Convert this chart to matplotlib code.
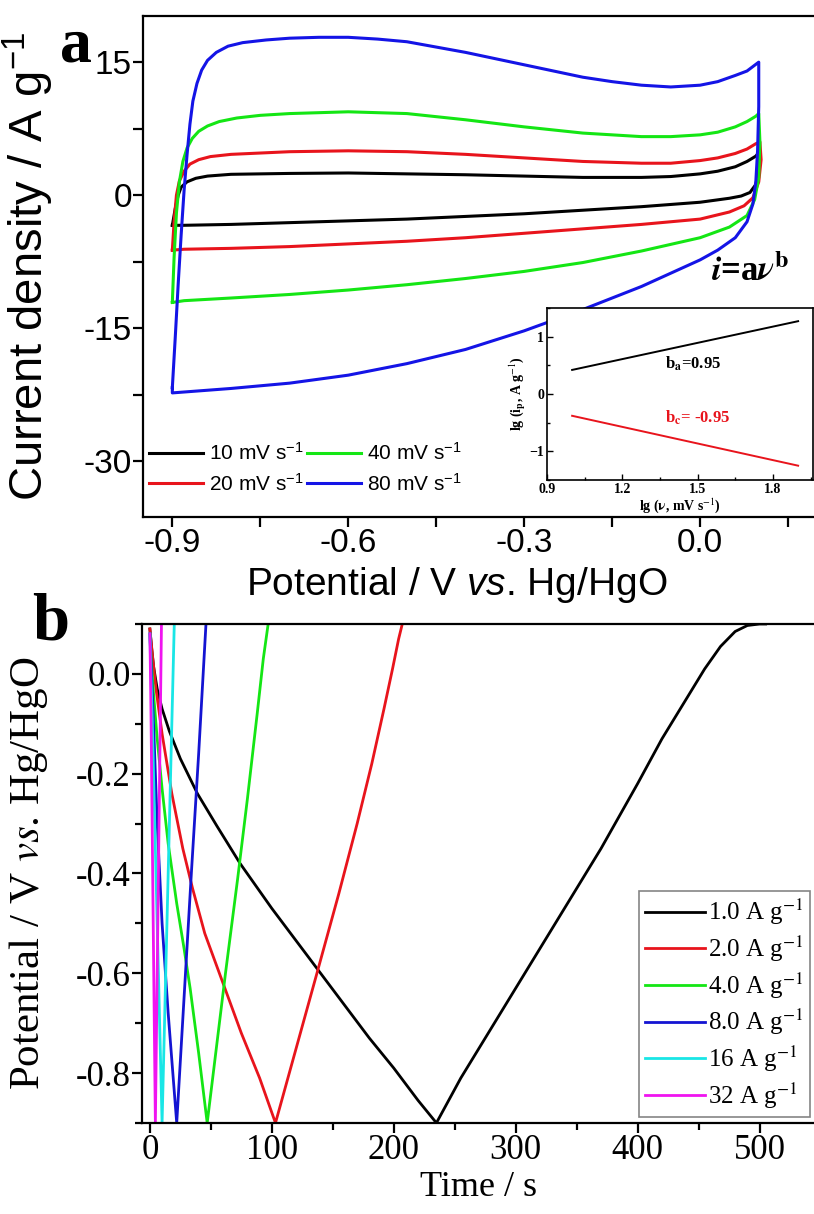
import numpy as np
import matplotlib
matplotlib.use('Agg')
import matplotlib.pyplot as plt
from matplotlib.ticker import MultipleLocator
from matplotlib.font_manager import FontProperties

# ---- panel a: CV loops (potential V, current A/g), anodic branch then cathodic branch
cv_labels = ['10 mV s$^{-1}$', '20 mV s$^{-1}$', '40 mV s$^{-1}$', '80 mV s$^{-1}$']
cv_colors = ['#000000', '#e8141c', '#14e614', '#1414e6']

cv_10_v = [-0.9, -0.895, -0.89, -0.885, -0.875, -0.86, -0.84, -0.8, -0.7, -0.6, -0.5, -0.4, -0.3, -0.2, -0.1,
           -0.05, 0.0, 0.03, 0.06, 0.08, 0.095, 0.1, 0.1, 0.095, 0.085, 0.07, 0.05, 0.0, -0.1, -0.2, -0.3, -0.4,
           -0.5, -0.6, -0.7, -0.8, -0.88, -0.9]
cv_10_i = [-3.4, -1.5, 0.0, 0.9, 1.5, 1.9, 2.15, 2.35, 2.45, 2.5, 2.4, 2.3, 2.15, 2.0, 2.0,
           2.1, 2.4, 2.7, 3.2, 3.8, 4.4, 4.8, 3.0, 1.2, 0.3, -0.1, -0.35, -0.8, -1.3, -1.7, -2.1, -2.4,
           -2.7, -2.9, -3.1, -3.3, -3.4, -3.4]

cv_20_v = [-0.9, -0.897, -0.893, -0.888, -0.88, -0.87, -0.855, -0.835, -0.8, -0.7, -0.6, -0.5, -0.4, -0.3, -0.2,
           -0.1, -0.05, 0.0, 0.03, 0.06, 0.08, 0.095, 0.102, 0.104, 0.1, 0.09, 0.075, 0.05, 0.0, -0.1, -0.2, -0.3,
           -0.4, -0.5, -0.6, -0.7, -0.8, -0.88, -0.9]
cv_20_i = [-6.2, -3.0, 0.0, 1.6, 2.7, 3.5, 4.0, 4.35, 4.6, 4.9, 5.0, 4.9, 4.6, 4.2, 3.8,
           3.6, 3.6, 3.9, 4.2, 4.7, 5.2, 5.8, 6.0, 4.0, 1.5, -0.3, -1.2, -1.9, -2.7, -3.3, -3.8, -4.3,
           -4.8, -5.2, -5.5, -5.8, -6.0, -6.1, -6.2]

cv_40_v = [-0.9, -0.897, -0.893, -0.888, -0.882, -0.875, -0.866, -0.855, -0.84, -0.82, -0.79, -0.75, -0.7, -0.6,
           -0.5, -0.4, -0.3, -0.2, -0.1, -0.05, 0.0, 0.03, 0.06, 0.08, 0.095, 0.1, 0.102, 0.1, 0.093, 0.08, 0.05,
           0.0, -0.1, -0.2, -0.3, -0.4, -0.5, -0.6, -0.7, -0.8, -0.88, -0.9]
cv_40_i = [-12.1, -7.0, -2.0, 1.5, 3.8, 5.3, 6.4, 7.2, 7.8, 8.3, 8.7, 9.0, 9.2, 9.4,
           9.2, 8.5, 7.7, 7.0, 6.6, 6.6, 6.8, 7.1, 7.7, 8.3, 8.9, 9.2, 6.0, 2.0, -0.5, -2.3, -3.6,
           -4.8, -6.3, -7.6, -8.6, -9.4, -10.1, -10.7, -11.2, -11.6, -11.9, -12.1]

cv_80_v = [-0.9, -0.895, -0.89, -0.885, -0.88, -0.875, -0.87, -0.865, -0.858, -0.85, -0.84, -0.825, -0.805,
           -0.78, -0.74, -0.7, -0.65, -0.6, -0.55, -0.5, -0.45, -0.4, -0.35, -0.3, -0.25, -0.2, -0.15, -0.1,
           -0.05, 0.0, 0.03, 0.06, 0.08, 0.1, 0.1, 0.098, 0.095, 0.09, 0.08, 0.06, 0.03, 0.0, -0.05, -0.1, -0.2,
           -0.3, -0.4, -0.5, -0.6, -0.7, -0.8, -0.9, -0.9]
cv_80_i = [-21.7, -16.0, -10.0, -4.5, 0.5, 4.5, 8.0, 10.6, 12.6, 14.1, 15.2, 16.1, 16.8,
           17.2, 17.5, 17.7, 17.8, 17.8, 17.6, 17.3, 16.7, 16.1, 15.4, 14.7, 14.0, 13.3, 12.8, 12.4,
           12.2, 12.4, 12.8, 13.5, 14.0, 15.0, 10.0, 5.0, 1.5, -1.0, -3.0, -4.8, -6.2, -7.3, -8.8, -10.3, -12.9,
           -15.3, -17.4, -19.0, -20.3, -21.2, -21.8, -22.3, -21.7]

cv_v = [cv_10_v, cv_20_v, cv_40_v, cv_80_v]
cv_i = [cv_10_i, cv_20_i, cv_40_i, cv_80_i]

# inset: lg(v) vs lg(ip)
lg_v = [1.0, 1.9]
lg_ip_a = [0.42, 1.27]
lg_ip_c = [-0.38, -1.25]

# ---- panel b: GCD curves (time s, potential V)
gcd_labels = ['1.0 A g$^{-1}$', '2.0 A g$^{-1}$', '4.0 A g$^{-1}$', '8.0 A g$^{-1}$', '16 A g$^{-1}$', '32 A g$^{-1}$']
gcd_colors = ['#000000', '#e8141c', '#14e614', '#1414d2', '#19e6e6', '#f014f0']

gcd_1_t = [0, 1.5, 3, 6, 10, 16, 25, 39, 55, 74, 100, 120, 140, 160, 180, 200, 220, 235,
           255, 280, 310, 340, 370, 400, 420, 440, 455, 468, 480, 490, 500, 505]
gcd_1_v = [0.09, 0.05, 0.015, -0.03, -0.07, -0.115, -0.17, -0.24, -0.305, -0.38, -0.47, -0.535, -0.6, -0.665,
           -0.73, -0.79, -0.855, -0.9,
           -0.81, -0.71, -0.59, -0.47, -0.35, -0.22, -0.13, -0.05, 0.01, 0.055, 0.085, 0.097, 0.1, 0.1]
gcd_2_t = [0, 2, 5, 10, 18, 27, 35, 45, 60, 75, 90, 103, 120, 137, 155, 170, 182, 192, 199, 204, 207]
gcd_2_v = [0.09, 0.04, -0.03, -0.12, -0.24, -0.35, -0.43, -0.52, -0.62, -0.72, -0.81, -0.9,
           -0.75, -0.6, -0.44, -0.3, -0.18, -0.07, 0.01, 0.07, 0.1]
gcd_4_t = [0, 1, 3, 6, 10, 15, 22, 28, 33, 40, 47, 55, 62, 72, 80, 88, 93, 97]
gcd_4_v = [0.08, 0.03, -0.04, -0.13, -0.23, -0.34, -0.46, -0.55, -0.63, -0.76, -0.9,
           -0.74, -0.6, -0.41, -0.25, -0.08, 0.03, 0.1]
gcd_8_t = [0, 1, 3, 6, 10, 15, 22, 28, 34, 40, 46]
gcd_8_v = [0.08, 0.02, -0.1, -0.3, -0.5, -0.68, -0.9, -0.65, -0.4, -0.16, 0.1]
gcd_16_t = [0, 0.5, 2, 5, 10, 15, 20]
gcd_16_v = [0.08, 0.03, -0.1, -0.4, -0.9, -0.4, 0.1]
gcd_32_t = [0, 0.3, 1, 2.5, 4.5, 7, 9.5]
gcd_32_v = [0.08, 0.03, -0.1, -0.45, -0.9, -0.4, 0.1]

gcd_t = [gcd_1_t, gcd_2_t, gcd_4_t, gcd_8_t, gcd_16_t, gcd_32_t]
gcd_v = [gcd_1_v, gcd_2_v, gcd_4_v, gcd_8_v, gcd_16_v, gcd_32_v]

sans = ['Liberation Sans', 'DejaVu Sans']
serif = ['Liberation Serif', 'DejaVu Serif']
plt.rcParams['mathtext.fontset'] = 'custom'
plt.rcParams['mathtext.rm'] = 'Liberation Sans'
plt.rcParams['mathtext.it'] = 'Liberation Sans:italic'
plt.rcParams['mathtext.bf'] = 'Liberation Sans:bold'

fig = plt.figure(figsize=(8.14, 12.14), dpi=100)

# ================= panel a =================
ax1 = fig.add_axes([0.1757, 0.5741, 0.8263, 0.4127])
for v, i, c, lab in zip(cv_v, cv_i, cv_colors, cv_labels):
    ax1.plot(v, i, color=c, lw=2.2, label=lab)
ax1.set_xlim(-0.95, 0.197)
ax1.set_ylim(-36.3, 20.2)
ax1.xaxis.set_minor_locator(MultipleLocator(0.15))
ax1.yaxis.set_minor_locator(MultipleLocator(7.5))
ax1.set_xticks([-0.9, -0.6, -0.3, 0.0])
ax1.set_xticklabels(['-0.9', '-0.6', '-0.3', '0.0'])
ax1.set_yticks([15, 0, -15, -30])
ax1.set_yticklabels(['15', '0', '-15', '-30'])
ax1.tick_params(which='both', direction='out', top=False, right=False, width=1.6, length=7)
ax1.tick_params(which='major', labelsize=24, pad=1)
for lbl in ax1.get_xticklabels() + ax1.get_yticklabels():
    lbl.set_family(sans)
for s in ['left', 'bottom', 'top']:
    ax1.spines[s].set_linewidth(1.6)
ax1.spines['right'].set_visible(False)
ax1.set_xlabel('Potential / V $\\mathit{vs}$. Hg/HgO', fontsize=28, family=sans)
ax1.xaxis.set_label_coords(0.467, -0.096)
ax1.set_ylabel('Current density / A g$^{-1}$', fontsize=34, family=sans)
ax1.yaxis.set_label_coords(-0.13, 0.5)
leg = ax1.legend(ncol=2, loc='lower left', bbox_to_anchor=(-0.01, 0.02), frameon=False,
                 prop={'family': sans, 'size': 15}, handlelength=2.6, handletextpad=0.3,
                 columnspacing=0.15, labelspacing=0.4, borderaxespad=0.2)
ax1.text(0.961, 0.489, '$\\boldsymbol{i}$=a$\\boldsymbol{\\nu}^{\\mathbf{b}}$', transform=ax1.transAxes,
         ha='right', va='center', fontsize=25, family=serif, fontweight='bold', math_fontfamily='stix')

# inset
ax_in = fig.add_axes([0.672, 0.6046, 0.327, 0.1417])
ax_in.plot(lg_v, lg_ip_a, color='#000000', lw=1.4)
ax_in.plot(lg_v, lg_ip_c, color='#e8141c', lw=1.4)
ax_in.set_xlim(0.9, 1.96)
ax_in.set_ylim(-1.5, 1.5)
ax_in.xaxis.set_major_locator(MultipleLocator(0.3))
ax_in.xaxis.set_minor_locator(MultipleLocator(0.15))
ax_in.yaxis.set_major_locator(MultipleLocator(1))
ax_in.yaxis.set_minor_locator(MultipleLocator(0.5))
ax_in.tick_params(which='both', direction='in', width=1.0, labelsize=10, pad=2)
ax_in.tick_params(which='major', length=4)
ax_in.tick_params(which='minor', length=2.5)
for lbl in ax_in.get_xticklabels() + ax_in.get_yticklabels():
    lbl.set_family(serif)
    lbl.set_fontweight('bold')
for s in ax_in.spines.values():
    s.set_linewidth(1.2)
ax_in.set_xlabel('lg ($\\mathbf{\\nu}$, mV s$^{-1}$)', fontsize=10, family=serif, fontweight='bold',
                 labelpad=0, math_fontfamily='stix')
ax_in.set_ylabel('lg ($\\mathbf{i_p}$, A g$^{-1}$)', fontsize=10, family=serif, fontweight='bold',
                 labelpad=1, math_fontfamily='stix')
ax_in.text(1.37, 0.45, 'b$_\\mathbf{a}$=0.95', fontsize=12, family=serif, fontweight='bold',
           color='#000000', math_fontfamily='stix')
ax_in.text(1.37, -0.5, 'b$_\\mathbf{c}$= -0.95', fontsize=12, family=serif, fontweight='bold',
           color='#e8141c', math_fontfamily='stix')

fig.text(0.0735, 0.962, 'a', fontsize=46, family=serif, fontweight='bold', ha='left', va='center')

# ================= panel b =================
ax2 = fig.add_axes([0.1744, 0.0750, 0.8276, 0.4110])
for t, v, c, lab in zip(gcd_t, gcd_v, gcd_colors, gcd_labels):
    ax2.plot(t, v, color=c, lw=2.0, label=lab)
ax2.set_xlim(-6.5, 546)
ax2.set_ylim(-0.9, 0.1)
ax2.xaxis.set_major_locator(MultipleLocator(100))
ax2.xaxis.set_minor_locator(MultipleLocator(50))
ax2.set_yticks([0.0, -0.2, -0.4, -0.6, -0.8])
ax2.set_yticklabels(['0.0', '-0.2', '-0.4', '-0.6', '-0.8'])
ax2.yaxis.set_minor_locator(MultipleLocator(0.1))
ax2.tick_params(which='both', direction='out', top=False, right=False, width=1.6)
ax2.tick_params(which='major', length=7, labelsize=25, pad=1)
ax2.tick_params(which='minor', length=5)
for lbl in ax2.get_xticklabels() + ax2.get_yticklabels():
    lbl.set_family(serif)
for s in ['left', 'bottom', 'top']:
    ax2.spines[s].set_linewidth(1.6)
ax2.spines['right'].set_visible(False)
ax2.set_xlabel('Time / s', fontsize=26, family=serif)
ax2.xaxis.set_label_coords(0.5, -0.096)
ax2.set_ylabel('Potential / V $\\mathit{vs}$. Hg/HgO', fontsize=31, family=serif, math_fontfamily='stix')
ax2.yaxis.set_label_coords(-0.137, 0.5)
leg2 = ax2.legend(loc='lower right', bbox_to_anchor=(0.9915, 0.012), frameon=True, fancybox=False,
                  prop=FontProperties(family=serif, size=18, math_fontfamily='stix'),
                  handlelength=2.4, handletextpad=0.1, labelspacing=0.25, borderpad=0.25,
                  borderaxespad=0.0)
leg2.get_frame().set_edgecolor('#666666')
leg2.get_frame().set_linewidth(1.2)

fig.text(0.040, 0.487, 'b', fontsize=48, family=serif, fontweight='bold', ha='left', va='center')

fig.savefig('out.png', dpi=100)
